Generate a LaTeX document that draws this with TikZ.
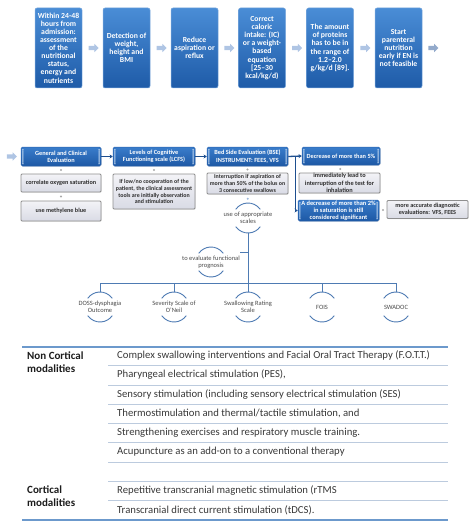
\documentclass[tikz,border=0pt]{standalone}
\usepackage{fontspec}
\setmainfont{Carlito}
\usetikzlibrary{shapes.arrows,calc,shadows,arrows.meta}
\definecolor{topA}{HTML}{4A8DD6}
\definecolor{topB}{HTML}{1E5BA8}
\definecolor{topedge}{HTML}{7BA8DC}
\definecolor{midA}{HTML}{3A7DCB}
\definecolor{midB}{HTML}{1D58A5}
\definecolor{midedge}{HTML}{2A63AE}
\definecolor{stripec}{HTML}{BFD6F0}
\definecolor{grayA}{HTML}{F3F3F7}
\definecolor{grayB}{HTML}{D9DBE5}
\definecolor{grayedge}{HTML}{8E8E8E}
\definecolor{graytext}{HTML}{2E2E2E}
\definecolor{arrlight}{HTML}{AFC5E4}
\definecolor{arrdark}{HTML}{93AACB}
\definecolor{darkarr}{HTML}{1E4F8F}
\definecolor{hier}{HTML}{4E7BB3}
\definecolor{ctextc}{HTML}{4A4A4A}
\definecolor{dotgray}{HTML}{A8A8A8}
\definecolor{dotblue}{HTML}{9DB8DC}
\definecolor{tthick}{HTML}{6C99CC}
\definecolor{tthin}{HTML}{BCCBDE}
\definecolor{rowc}{HTML}{383838}
\definecolor{labc}{HTML}{1C1C1C}
\newcommand\twoarcs[1]{%
  \draw[arcst] ([shift={(35:15pt)}]#1.center) arc[start angle=35,end angle=145,radius=15pt];
  \draw[arcst] ([shift={(215:15pt)}]#1.center) arc[start angle=215,end angle=325,radius=15pt];}
\begin{document}
\begin{tikzpicture}[x=1pt,y=-1pt,
  topbox/.style={draw=topedge,line width=0.5pt,rounded corners=2pt,top color=topA,bottom color=topB,
    text=white,font=\fontsize{7.7}{8.1}\selectfont\bfseries,align=center,
    minimum width=47pt,minimum height=80pt,inner sep=1pt},
  blockarr/.style={single arrow,fill=arrlight,draw=none,minimum height=10pt,
    single arrow head extend=2pt,inner sep=2pt},
  midbox/.style={draw=midedge,line width=0.5pt,rounded corners=1.5pt,top color=midA,bottom color=midB,
    text=white,font=\fontsize{6.3}{7.2}\selectfont\bfseries,align=center,inner sep=0.5pt,
    drop shadow={opacity=0.25,shadow xshift=0.7pt,shadow yshift=-0.7pt},
    path picture={
      \fill[stripec] ([xshift=1.3pt,yshift=-2pt]path picture bounding box.north west) rectangle ([xshift=2.3pt,yshift=2pt]path picture bounding box.south west);
      \fill[stripec] ([xshift=-2.3pt,yshift=-2pt]path picture bounding box.north east) rectangle ([xshift=-1.3pt,yshift=2pt]path picture bounding box.south east);}},
  graybox/.style={draw=grayedge,line width=0.8pt,rounded corners=1pt,top color=grayA,bottom color=grayB,
    text=graytext,font=\fontsize{6.2}{7}\selectfont\bfseries,align=center,inner sep=0.5pt,
    drop shadow={opacity=0.25,shadow xshift=0.7pt,shadow yshift=-0.7pt}},
  dotc/.style={circle,fill=dotgray,inner sep=0pt,minimum size=2.2pt},
  darrow/.style={draw=darkarr,line width=1.3pt,-{Stealth[length=3.2pt,width=4pt]}},
  hline/.style={draw=hier,line width=0.9pt},
  arcst/.style={draw=hier,line width=0.9pt},
  ctext/.style={text=ctextc,font=\fontsize{6.5}{7.3}\selectfont,align=center,inner sep=0pt},
  rowtext/.style={text=rowc,font=\fontsize{10.7}{12}\selectfont,anchor=west,inner sep=0pt},
  labtext/.style={text=labc,font=\fontsize{11}{12.5}\selectfont\bfseries,anchor=west,align=left,inner sep=0pt},
  thickrule/.style={draw=tthick,line width=1.4pt},
  thinrule/.style={draw=tthin,line width=0.8pt}]
\useasboundingbox (0,0) rectangle (474,532);

% ---------- top row ----------
\node[topbox] (t1) at (58.5,48) {Within 24-48\\hours from\\admission:\\assessment\\of the\\nutritional\\status,\\energy and\\nutrients};
\node[topbox] (t2) at (126.5,48) {Detection of\\weight,\\height and\\BMI};
\node[topbox] (t3) at (194.5,48) {Reduce\\aspiration or\\reflux};
\node[topbox] (t4) at (262,48) {Correct\\caloric\\intake: (IC)\\or a weight-\\based\\equation\\{[}25--30\\kcal/kg/d)};
\node[topbox] (t5) at (330,48) {The amount\\of proteins\\has to be in\\the range of\\1.2--2.0\\g/kg/d [89].};
\node[topbox] (t6) at (398.5,48) {Start\\parenteral\\nutrition\\early if EN is\\not feasible};
\node[blockarr] (a1) at ($(t1.east)!0.5!(t2.west)$) {};
\node[blockarr] (a2) at ($(t2.east)!0.5!(t3.west)$) {};
\node[blockarr] (a3) at ($(t3.east)!0.5!(t4.west)$) {};
\node[blockarr] (a4) at ($(t4.east)!0.5!(t5.west)$) {};
\node[blockarr] (a5) at ($(t5.east)!0.5!(t6.west)$) {};
\node[blockarr,fill=arrdark] (a6) at ($(t6.east)+(10,0)$) {};

% ---------- middle flow ----------
\node[midbox,minimum width=80pt,minimum height=19pt] (gen) at (61,156.5) {General and Clinical\\Evaluation};
\node[graybox,minimum width=80pt,minimum height=18pt] (c1) at (61,183) {correlate oxygen saturation};
\node[graybox,minimum width=80pt,minimum height=20pt] (c2) at (61,211) {use methylene blue};
\node[blockarr] (a0) at ($(gen.west)+(-10,0)$) {};

\node[midbox,minimum width=82pt,minimum height=19pt] (lcfs) at (154,156.5) {Levels of Cognitive\\Functioning scale (LCFS)};
\node[graybox,minimum width=82pt,minimum height=35pt,font=\fontsize{5.9}{6.9}\selectfont\bfseries] (lcfsg) at (154,191.5) {If low/no cooperation of the\\patient, the clinical assessment\\tools are initially observation\\and stimulation};

\node[midbox,minimum width=81pt,minimum height=19pt] (bse) at (247.5,156.5) {Bed Side Evaluation (BSE)\\INSTRUMENT: FEES, VFS};
\node[graybox,minimum width=81pt,minimum height=21pt,font=\fontsize{5.9}{6.9}\selectfont\bfseries] (bseg) at (247.5,183.5) {Interruption if aspiration of\\more than 50\% of the bolus on\\3 consecutive swallows};

\node[midbox,minimum width=78pt,minimum height=18pt] (dec5) at (341,156) {Decrease of more than 5\%};
\node[graybox,minimum width=81pt,minimum height=20pt,font=\fontsize{6.3}{7.2}\selectfont\bfseries] (decg) at (339.5,183) {immediately lead to\\interruption of the test for\\inhalation};
\node[midbox,minimum width=81pt,minimum height=21pt,font=\fontsize{6.4}{7.2}\selectfont\bfseries] (dec2) at (338.5,210.5) {A decrease of more than 2\%\\in saturation is still\\considered significant};
\node[graybox,minimum width=81pt,minimum height=18pt] (more) at (427.5,209.5) {more accurate diagnostic\\evaluations: VFS, FEES};

\node[dotc] (d1) at ($(gen.south)!0.5!(c1.north)$) {};
\node[dotc] (d2) at ($(c1.south)!0.5!(c2.north)$) {};
\node[dotc] (d3) at ($(lcfs.south)!0.5!(lcfsg.north)$) {};
\node[dotc] (d4) at ($(bse.south)!0.5!(bseg.north)$) {};
\node[dotc] (d5) at ($(dec5.south)!0.5!(decg.north)$) {};
\node[dotc] (d6) at ($(dec2.east)!0.5!(more.west)$) {};

\draw[darrow] (gen.east) -- (lcfs.west);
\draw[darrow] (lcfs.east) -- (bse.west);
\coordinate (br) at ($(bse.east)+(7,0)$);
\draw[darrow] (bse.east) -- (dec5.west);
\draw[darrow] (br) |- (dec2.west);

% ---------- hierarchy of scales ----------
\node[ctext] (sc) at (248,218) {use of appropriate\\scales};
\node[ctext] (fp) at (211,262) {to evaluate functional\\prognosis};
\node[ctext] (s1) at (100,307) {DOSS-dysphagia\\Outcome};
\node[ctext] (s2) at (174,307) {Severity Scale of\\O'Neil};
\node[ctext] (s3) at (248,307) {Swallowing Rating\\Scale};
\node[ctext] (s4) at (322,307) {FOIS};
\node[ctext] (s5) at (396,307) {SWADOC};
\twoarcs{sc}\twoarcs{fp}\twoarcs{s1}\twoarcs{s2}\twoarcs{s3}\twoarcs{s4}\twoarcs{s5}
\node[dotc,fill=dotblue] (d7) at ($(bseg.south)!0.5!([yshift=15pt]sc.center)$) {};

\coordinate (bus) at (248,283);
\coordinate (fpj) at (240,252);
\draw[hline] ([yshift=-15pt]sc.center) -- ([yshift=15pt]s3.center);
\draw[hline] ([yshift=15pt]s1.center) |- (bus);
\draw[hline] ([yshift=15pt]s5.center) |- (bus);
\draw[hline] ([yshift=15pt]s2.center) -- (s2.center |- bus);
\draw[hline] ([yshift=15pt]s4.center) -- (s4.center |- bus);
\draw[hline] (fpj) -- (fpj -| sc.center);

% ---------- table ----------
\draw[thickrule] (22,347) -- (448,347);
\draw[thickrule] (22,520) -- (448,520);
\foreach \yy in {365,385,404,423,442,462,481,500}
  \draw[thinrule] (108,\yy) -- (448,\yy);
\node[labtext] (l1) at (27,362) {Non Cortical\\modalities};
\node[labtext] (l2) at (27,496) {Cortical\\modalities};
\node[rowtext] (r1) at (117,356) {Complex swallowing interventions and Facial Oral Tract Therapy (F.O.T.T.)};
\node[rowtext] (r2) at (117,375) {Pharyngeal electrical stimulation (PES),};
\node[rowtext] (r3) at (117,394.5) {Sensory stimulation (including sensory electrical stimulation (SES)};
\node[rowtext] (r4) at (117,413.5) {Thermostimulation and thermal/tactile stimulation, and};
\node[rowtext] (r5) at (117,432.5) {Strengthening exercises and respiratory muscle training.};
\node[rowtext] (r6) at (117,452) {Acupuncture as an add-on to a conventional therapy};
\node[rowtext] (r7) at (117,490.5) {Repetitive transcranial magnetic stimulation (rTMS};
\node[rowtext] (r8) at (117,510) {Transcranial direct current stimulation (tDCS).};
\end{tikzpicture}
\end{document}
